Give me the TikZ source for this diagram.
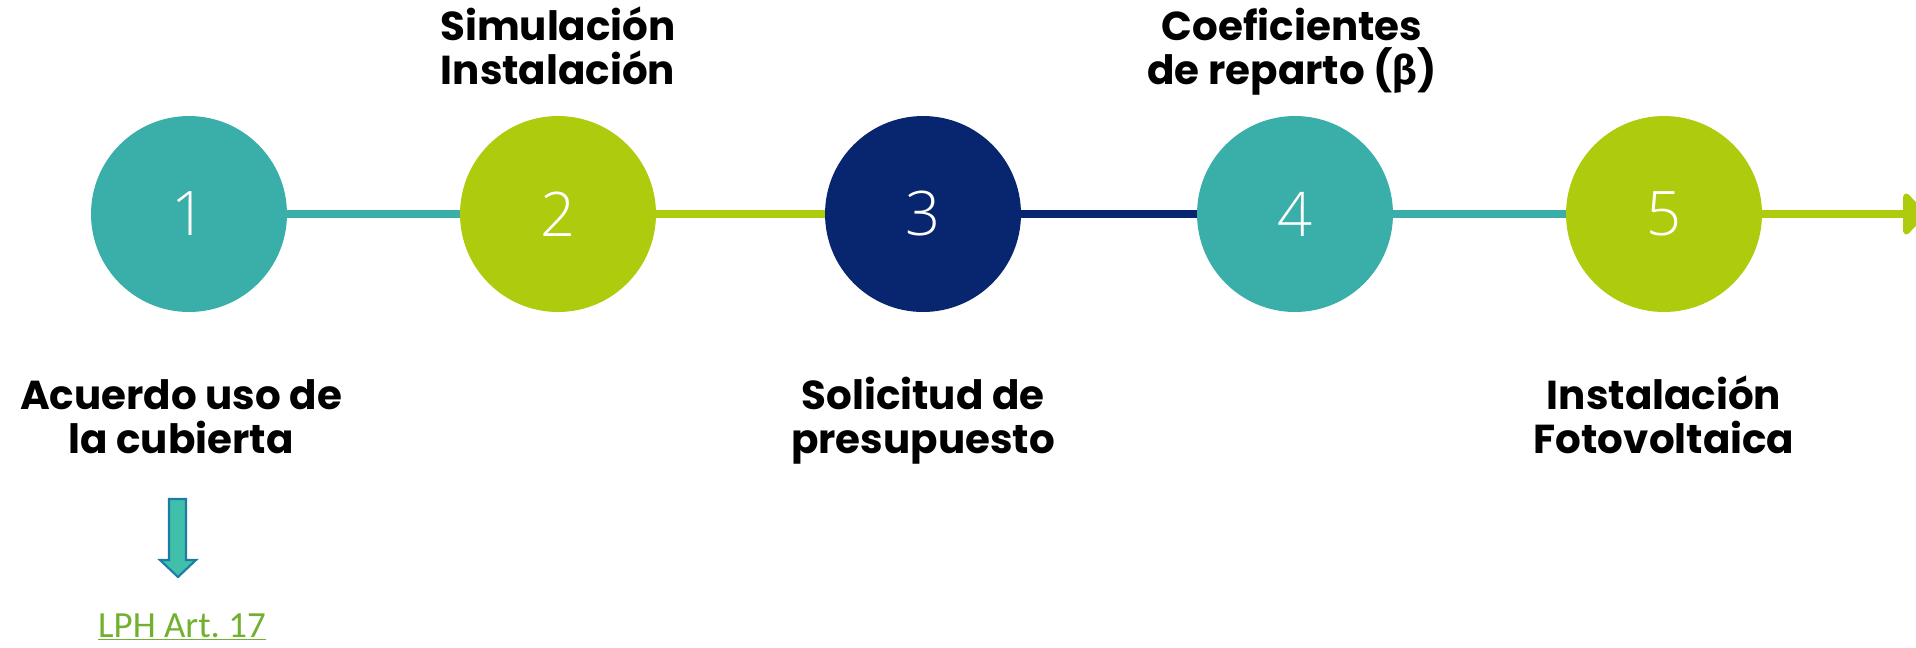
\documentclass[tikz,border=0pt]{standalone}
\usepackage{fontspec}
\setmainfont{Poppins}
\newfontfamily\betafont{Fira Sans}
\newfontfamily\linkfont{Carlito}
\IfFontExistsTF{Open Sans Light}{\newfontfamily\numfont{Open Sans Light}}{\newfontfamily\numfont{Open Sans}}
\usetikzlibrary{positioning,arrows.meta}

\definecolor{tealstep}{HTML}{3AAEA8}
\definecolor{limestep}{HTML}{AFCB0D}
\definecolor{navystep}{HTML}{08266F}
\definecolor{linkgreen}{HTML}{72B030}
\definecolor{arrowfill}{HTML}{40BFAA}
\definecolor{arrowedge}{HTML}{1B7DA6}

\begin{document}
\begin{tikzpicture}[x=0.02cm,y=-0.02cm,
    stepdot/.style={circle,
                    minimum size=3.92cm,
                    inner sep=0pt,
                    text=white,
                    font=\numfont\fontsize{35}{35}\selectfont},
    steplabel/.style={align=center,
                      anchor=base,
                      font=\bfseries\fontsize{23}{25}\selectfont},
    joint/.style={line width=5pt}]
%    \draw (0,0) rectangle (1916,647);
    \useasboundingbox (0,0) rectangle (1916,647);

    % steps
    \node[stepdot, fill=tealstep] (s1) at (189,214) {1};
    \node[stepdot, fill=limestep] (s2) at (558,214) {2};
    \node[stepdot, fill=navystep] (s3) at (923,214) {3};
    \node[stepdot, fill=tealstep] (s4) at (1295,214) {4};
    \node[stepdot, fill=limestep] (s5) at (1664,214) {5};
    \coordinate (tail) at (1926,214);

    \draw[joint, tealstep] (s1) -- (s2);
    \draw[joint, limestep] (s2) -- (s3);
    \draw[joint, navystep] (s3) -- (s4);
    \draw[joint, tealstep] (s4) -- (s5);
    \draw[joint, limestep,
          -{Triangle[length=0.48cm,width=0.98cm,round]}] (s5) -- (tail);

    % labels
    \node[steplabel] (l1) at (181,453) {Acuerdo uso de\\la cubierta};
    \node[steplabel] (l2) at (558,84) {Simulación\\Instalación};
    \node[steplabel] (l3) at (923,453) {Solicitud de\\presupuesto};
    \node[steplabel] (l4) at (1292,84) {Coeficientes\\de reparto ({\betafont β})};
    \node[steplabel] (l5) at (1664,453) {Instalación\\Fotovoltaica};

    % link below step 1
    \draw[fill=arrowfill,
          draw=arrowedge,
          line width=1.2pt] (169,499) -- (186,499) -- (186,560) -- (196,560)
          -- (178,577) -- (160,560) -- (169,560) -- cycle;
    \node[font=\linkfont\fontsize{21}{22}\selectfont,
          text=linkgreen,
          anchor=base] (law) at (182,637) {\underline{LPH Art.\ 17}};
\end{tikzpicture}
\end{document}
